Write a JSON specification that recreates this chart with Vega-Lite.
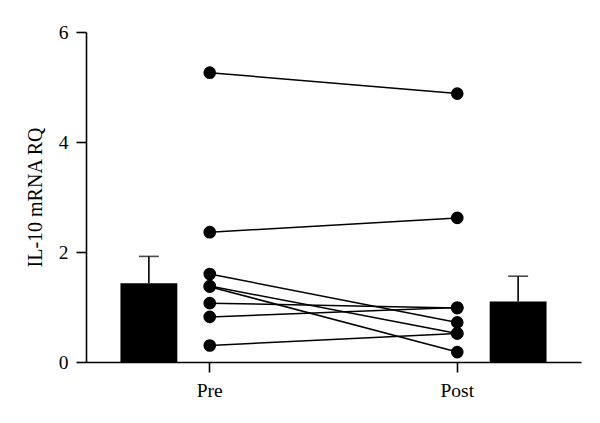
{
  "$schema": "https://vega.github.io/schema/vega-lite/v6.json",
  "autosize": {"type": "none"},
  "padding": {"left": 86, "top": 32, "right": 19, "bottom": 61},
  "width": 495,
  "height": 330,
  "background": "white",
  "config": {
    "view": {"stroke": null},
    "font": "Liberation Serif",
    "axis": {"titleFontSize": 20, "titleFontWeight": "normal", "labelFontSize": 19.5}
  },
  "datasets": {
    "summary": [
      {"time": "Pre", "side": "left", "mean": 1.43, "upper": 1.92},
      {"time": "Post", "side": "right", "mean": 1.10, "upper": 1.56}
    ],
    "subjects": [
      {"subject": "S1", "time": "Pre", "rq": 5.26},
      {"subject": "S1", "time": "Post", "rq": 4.88},
      {"subject": "S2", "time": "Pre", "rq": 2.36},
      {"subject": "S2", "time": "Post", "rq": 2.62},
      {"subject": "S3", "time": "Pre", "rq": 1.60},
      {"subject": "S3", "time": "Post", "rq": 0.72},
      {"subject": "S4", "time": "Pre", "rq": 1.38},
      {"subject": "S4", "time": "Post", "rq": 0.52},
      {"subject": "S5", "time": "Pre", "rq": 1.37},
      {"subject": "S5", "time": "Post", "rq": 0.18},
      {"subject": "S6", "time": "Pre", "rq": 1.07},
      {"subject": "S6", "time": "Post", "rq": 0.98},
      {"subject": "S7", "time": "Pre", "rq": 0.82},
      {"subject": "S7", "time": "Post", "rq": 0.99},
      {"subject": "S8", "time": "Pre", "rq": 0.30},
      {"subject": "S8", "time": "Post", "rq": 0.52}
    ]
  },
  "encoding": {
    "x": {
      "field": "time",
      "type": "nominal",
      "sort": ["Pre", "Post"],
      "scale": {"type": "band", "domain": ["Pre", "Post"], "paddingInner": 0, "paddingOuter": 0},
      "axis": {
        "title": null, "labelAngle": 0, "labelPadding": 9, "grid": false,
        "labelFont": "Liberation Serif", "labelFontSize": 19.5, "labelColor": "black",
        "domainColor": "black", "domainWidth": 1.6, "tickColor": "black", "tickWidth": 1.6, "tickSize": 10
      }
    }
  },
  "layer": [
    {
      "data": {"name": "summary"},
      "mark": {"type": "rule", "color": "black", "strokeWidth": 1.6},
      "encoding": {
        "xOffset": {"field": "side", "type": "nominal", "scale": {"domain": ["left", "center", "right"], "paddingInner": 0.066, "paddingOuter": 0.566}},
        "y": {
          "field": "mean",
          "type": "quantitative",
          "scale": {"domain": [0, 6], "nice": false},
          "axis": {
            "title": "IL-10 mRNA RQ", "values": [0, 2, 4, 6], "format": "d", "grid": false,
            "labelPadding": 8, "titlePadding": 13,
            "labelFont": "Liberation Serif", "labelFontSize": 19.5, "labelColor": "black",
            "titleFont": "Liberation Serif", "titleFontSize": 20, "titleFontWeight": "normal", "titleColor": "black",
            "domainColor": "black", "domainWidth": 1.6, "tickColor": "black", "tickWidth": 1.6, "tickSize": 10
          }
        },
        "y2": {"field": "upper"}
      }
    },
    {
      "data": {"name": "summary"},
      "mark": {"type": "tick", "color": "black", "thickness": 1.6, "size": 20, "orient": "horizontal"},
      "encoding": {
        "xOffset": {"field": "side", "type": "nominal", "scale": {"domain": ["left", "center", "right"], "paddingInner": 0.066, "paddingOuter": 0.566}},
        "y": {"field": "upper", "type": "quantitative"}
      }
    },
    {
      "data": {"name": "summary"},
      "mark": {"type": "bar", "color": "black"},
      "encoding": {
        "xOffset": {"field": "side", "type": "nominal", "scale": {"domain": ["left", "center", "right"], "paddingInner": 0.066, "paddingOuter": 0.566}},
        "y": {"field": "mean", "type": "quantitative"}
      }
    },
    {
      "data": {"name": "subjects"},
      "mark": {"type": "line", "color": "black", "strokeWidth": 1.5},
      "encoding": {
        "detail": {"field": "subject", "type": "nominal"},
        "y": {"field": "rq", "type": "quantitative"}
      }
    },
    {
      "data": {"name": "subjects"},
      "mark": {"type": "point", "filled": true, "color": "black", "opacity": 1, "size": 160},
      "encoding": {
        "y": {"field": "rq", "type": "quantitative"}
      }
    }
  ]
}
